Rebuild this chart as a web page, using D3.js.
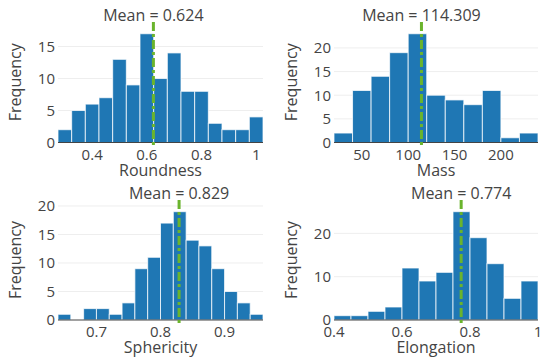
<!DOCTYPE html>
<html>
<head>
<meta charset="utf-8">
<script src="https://cdn.jsdelivr.net/npm/d3@7"></script>
<style>
  body { margin: 0; background: #fff; }
  text { font-family: "Open Sans", sans-serif; fill: #444; }
</style>
</head>
<body>
<div id="chart"></div>
<script>
// histogram counts
const roundnessCounts = [2, 5, 6, 7, 13, 9, 17, 10, 14, 8, 8, 3, 2, 2, 4];
const massCounts = [2, 11, 14, 19, 23, 10, 9, 8, 11, 1, 2];
const sphericityCounts = [1, 0, 2, 2, 1, 3, 9, 11, 17, 19, 14, 13, 9, 5, 3, 1];
const elongationCounts = [1, 1, 2, 3, 12, 9, 11, 25, 19, 13, 5, 9];

const variables = ["Roundness", "Mass", "Sphericity", "Elongation"];
const binStarts = [0.275, 20, 0.64, 0.4];
const binWidths = [0.05, 20, 0.02, 0.05];
const means = [0.624, 114.309, 0.829, 0.774];
const meanLabels = ["0.624", "114.309", "0.829", "0.774"];
const xTicks = [[0.4, 0.6, 0.8, 1], [50, 100, 150, 200], [0.7, 0.8, 0.9], [0.4, 0.6, 0.8, 1]];
const yTicks = [[0, 5, 10, 15], [0, 5, 10, 15, 20], [0, 5, 10, 15, 20], [0, 10, 20]];
const allCounts = [roundnessCounts, massCounts, sphericityCounts, elongationCounts];

const width = 542, height = 360;
const cols = [[58, 263], [334, 538]];
const rows = [[22, 142.5], [200, 320]];

const svg = d3.select("#chart")
              .append("svg")
              .attr("width", width)
              .attr("height", height);

variables.forEach((name, k) => {
    const counts = allCounts[k];
    const [x0, x1] = cols[k % 2];
    const [y0, y1] = rows[Math.floor(k / 2)];
    const start = binStarts[k], step = binWidths[k];
    const bins = counts.map((c, i) => ({lo: start + i * step, hi: start + (i + 1) * step, n: c}));

    const xScale = d3.scaleLinear()
                     .domain([start, start + counts.length * step])
                     .range([x0, x1]);
    const yScale = d3.scaleLinear()
                     .domain([0, d3.max(counts) * 1.108])
                     .range([y1, y0]);

    const g = svg.append("g");

    // gridlines
    g.selectAll("line.grid")
     .data(yTicks[k].filter(t => t > 0))
     .enter()
     .append("line")
     .attr("x1", x0).attr("x2", x1)
     .attr("y1", d => yScale(d)).attr("y2", d => yScale(d))
     .attr("stroke", "#eee")
     .attr("stroke-width", 1);

    g.selectAll("rect")
     .data(bins)
     .enter()
     .append("rect")
     .attr("x", d => xScale(d.lo))
     .attr("width", d => xScale(d.hi) - xScale(d.lo))
     .attr("y", d => yScale(d.n))
     .attr("height", d => yScale(0) - yScale(d.n))
     .attr("fill", "#1f77b4")
     .attr("stroke", "#fff")
     .attr("stroke-opacity", 0.75)
     .attr("stroke-width", 1);

    // zero line
    g.append("line")
     .attr("x1", x0).attr("x2", x1)
     .attr("y1", yScale(0)).attr("y2", yScale(0))
     .attr("stroke", "#444")
     .attr("stroke-width", 1);

    // mean line
    g.append("line")
     .attr("x1", xScale(means[k])).attr("x2", xScale(means[k]))
     .attr("y1", y0).attr("y2", y1 + 3)
     .attr("stroke", "#6ab42d")
     .attr("stroke-width", 3)
     .attr("stroke-dasharray", "9,3,3,3");

    g.append("text")
     .attr("x", xScale(means[k]))
     .attr("y", y0 - 1)
     .attr("text-anchor", "middle")
     .style("font-size", "16px")
     .text("Mean = " + meanLabels[k]);

    // x ticks
    g.selectAll("text.xtick")
     .data(xTicks[k])
     .enter()
     .append("text")
     .attr("x", d => xScale(d))
     .attr("y", y1 + 17)
     .attr("text-anchor", "middle")
     .style("font-size", "15px")
     .text(d => d);

    // y ticks
    g.selectAll("text.ytick")
     .data(yTicks[k])
     .enter()
     .append("text")
     .attr("x", x0 - 3)
     .attr("y", d => yScale(d) + 5.4)
     .attr("text-anchor", "end")
     .style("font-size", "15px")
     .text(d => d);

    g.append("text")
     .attr("x", (x0 + x1) / 2)
     .attr("y", y1 + 33)
     .attr("text-anchor", "middle")
     .style("font-size", "16px")
     .text(name);

    g.append("text")
     .attr("transform", `translate(${x0 - 37},${(y0 + y1) / 2}) rotate(-90)`)
     .attr("text-anchor", "middle")
     .style("font-size", "16px")
     .text("Frequency");
});
</script>
</body>
</html>
